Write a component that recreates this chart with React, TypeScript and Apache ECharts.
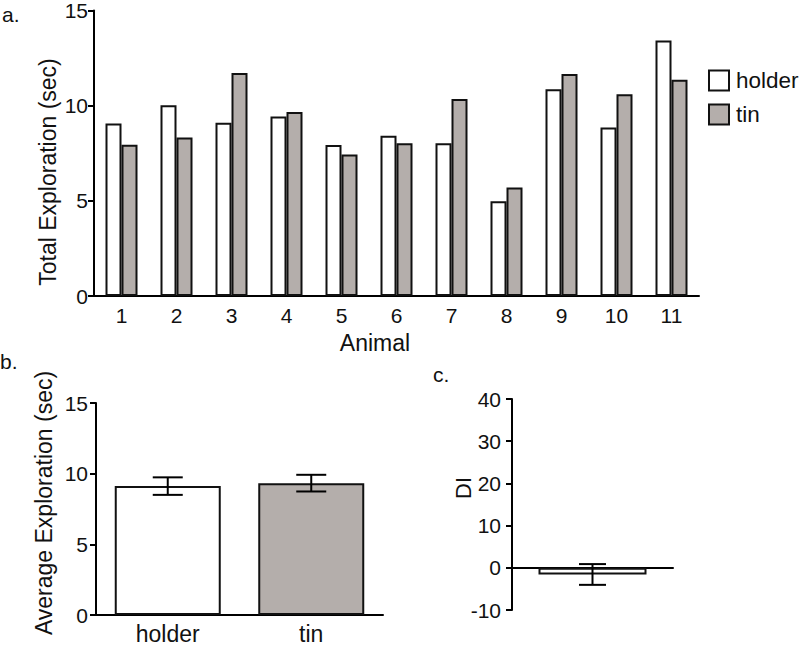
import React, { useEffect, useRef } from "react";
import * as echarts from "echarts";

// ---- Data ----
const animals = ["1", "2", "3", "4", "5", "6", "7", "8", "9", "10", "11"];
const holderValues = [9.06, 10.02, 9.1, 9.43, 7.93, 8.42, 8.03, 4.98, 10.86, 8.85, 13.42];
const tinValues = [7.95, 8.33, 11.71, 9.67, 7.44, 8.03, 10.35, 5.7, 11.66, 10.6, 11.36];

const groupNames = ["holder", "tin"];
const groupMeans = [9.12, 9.33];
const groupErrLow = [8.5, 8.74];
const groupErrHigh = [9.74, 9.92];

const diCategory = [""];
const diMean = [-1.6];
const diErrLow = [-4.04];
const diErrHigh = [0.88];

const ticksA = [0, 5, 10, 15];
const ticksC = [-10, 0, 10, 20, 30, 40];

const FONT = "Liberation Sans, Arial, sans-serif";
const GRAY = "#b4aeab";
const INK = "#111";

export default function App() {
  const ref = useRef<HTMLDivElement>(null);

  useEffect(() => {
    if (!ref.current) return;
    const chart = echarts.init(ref.current, null, { renderer: "svg" });

    const axisLine = { show: true, onZero: true, lineStyle: { color: "#000", width: 2 } };
    const yLabel = (margin: number) => ({ fontSize: 21, color: INK, fontFamily: FONT, margin });
    const yTick = { show: true, length: 6, lineStyle: { color: "#000", width: 2 } };

    const errRender = (capW: number) => (params: any, api: any) => {
      const x = api.value(0);
      const lo = api.value(1);
      const hi = api.value(2);
      const t = api.coord([x, hi]);
      const b = api.coord([x, lo]);
      const st = { stroke: "#000", lineWidth: 2 };
      return {
        type: "group",
        children: [
          { type: "line", shape: { x1: t[0], y1: t[1], x2: b[0], y2: b[1] }, style: st },
          { type: "line", shape: { x1: t[0] - capW / 2, y1: t[1], x2: t[0] + capW / 2, y2: t[1] }, style: st },
          { type: "line", shape: { x1: b[0] - capW / 2, y1: b[1], x2: b[0] + capW / 2, y2: b[1] }, style: st },
        ],
      };
    };

    const rotText = (text: string, x: number, y: number, size: number) => ({
      type: "text",
      x,
      y,
      rotation: Math.PI / 2,
      style: {
        text,
        x: 0,
        y: 0,
        fontSize: size,
        fontFamily: FONT,
        fill: INK,
        textAlign: "center",
        textVerticalAlign: "middle",
      },
    });

    const option: any = {
      animation: false,
      backgroundColor: "#fff",
      textStyle: { fontFamily: FONT },
      legend: {
        data: ["holder", "tin"],
        orient: "vertical",
        left: 708,
        top: 69,
        padding: 0,
        itemWidth: 20,
        itemHeight: 20,
        itemGap: 11,
        icon: "rect",
        textStyle: { fontSize: 22.5, color: INK, fontFamily: FONT, padding: [0, 0, 0, 2] },
      },
      grid: [
        { left: 94, top: 9, width: 605, height: 287 },
        { left: 96, top: 403, width: 287, height: 212 },
        { left: 512, top: 399, width: 161, height: 211 },
      ],
      xAxis: [
        {
          gridIndex: 0,
          type: "category",
          data: animals,
          axisLine,
          axisTick: { show: false },
          axisLabel: { fontSize: 21, color: INK, fontFamily: FONT, margin: 9 },
        },
        {
          gridIndex: 1,
          type: "category",
          data: groupNames,
          axisLine,
          axisTick: { show: false },
          axisLabel: { fontSize: 23, color: INK, fontFamily: FONT, margin: 7 },
        },
        {
          gridIndex: 2,
          type: "category",
          data: diCategory,
          axisLine,
          axisTick: { show: false },
          axisLabel: { show: false },
        },
      ],
      yAxis: [
        {
          gridIndex: 0,
          type: "value",
          min: ticksA[0],
          max: ticksA[ticksA.length - 1],
          interval: 5,
          axisLine,
          axisTick: yTick,
          axisLabel: yLabel(6),
          splitLine: { show: false },
        },
        {
          gridIndex: 1,
          type: "value",
          min: ticksA[0],
          max: ticksA[ticksA.length - 1],
          interval: 5,
          axisLine,
          axisTick: yTick,
          axisLabel: yLabel(8),
          splitLine: { show: false },
        },
        {
          gridIndex: 2,
          type: "value",
          min: ticksC[0],
          max: ticksC[ticksC.length - 1],
          interval: 10,
          axisLine: { show: true, onZero: false, lineStyle: { color: "#000", width: 2 } },
          axisTick: yTick,
          axisLabel: yLabel(11),
          splitLine: { show: false },
        },
      ],
      series: [
        {
          name: "holder",
          type: "bar",
          xAxisIndex: 0,
          yAxisIndex: 0,
          data: holderValues,
          barWidth: 16,
          barGap: "0%",
          itemStyle: { color: "#fff", borderColor: INK, borderWidth: 2 },
        },
        {
          name: "tin",
          type: "bar",
          xAxisIndex: 0,
          yAxisIndex: 0,
          data: tinValues,
          barWidth: 16,
          barGap: "0%",
          itemStyle: { color: GRAY, borderColor: INK, borderWidth: 2 },
        },
        {
          name: "avg",
          type: "bar",
          xAxisIndex: 1,
          yAxisIndex: 1,
          barWidth: 106,
          data: groupMeans.map((v, i) => ({
            value: v,
            itemStyle: { color: i === 0 ? "#fff" : GRAY, borderColor: INK, borderWidth: 2 },
          })),
        },
        {
          name: "avgErr",
          type: "custom",
          xAxisIndex: 1,
          yAxisIndex: 1,
          renderItem: errRender(30),
          data: groupMeans.map((_, i) => [i, groupErrLow[i], groupErrHigh[i]]),
          z: 5,
        },
        {
          name: "di",
          type: "bar",
          xAxisIndex: 2,
          yAxisIndex: 2,
          barWidth: 108,
          data: diMean,
          itemStyle: { color: "#fff", borderColor: INK, borderWidth: 2 },
        },
        {
          name: "diErr",
          type: "custom",
          xAxisIndex: 2,
          yAxisIndex: 2,
          renderItem: errRender(27),
          data: diMean.map((_, i) => [i, diErrLow[i], diErrHigh[i]]),
          z: 5,
        },
      ],
      graphic: [
        { type: "text", left: 2, top: 4, style: { text: "a.", fontSize: 21, fontFamily: FONT, fill: INK } },
        { type: "text", left: 0, top: 351, style: { text: "b.", fontSize: 21, fontFamily: FONT, fill: INK } },
        { type: "text", left: 433, top: 364, style: { text: "c.", fontSize: 21, fontFamily: FONT, fill: INK } },
        rotText("Total Exploration (sec)", 48, 172, 23),
        {
          type: "text",
          x: 375,
          y: 343,
          style: {
            text: "Animal",
            x: 0,
            y: 0,
            fontSize: 23,
            fontFamily: FONT,
            fill: INK,
            textAlign: "center",
            textVerticalAlign: "middle",
          },
        },
        rotText("Average Exploration (sec)", 44, 503, 23),
        rotText("DI", 463, 488, 22),
      ],
    };

    chart.setOption(option);
    return () => chart.dispose();
  }, []);

  return (
    <div
      ref={ref}
      style={{ position: "fixed", left: 0, top: 0, width: 800, height: 645, background: "#fff" }}
    />
  );
}
